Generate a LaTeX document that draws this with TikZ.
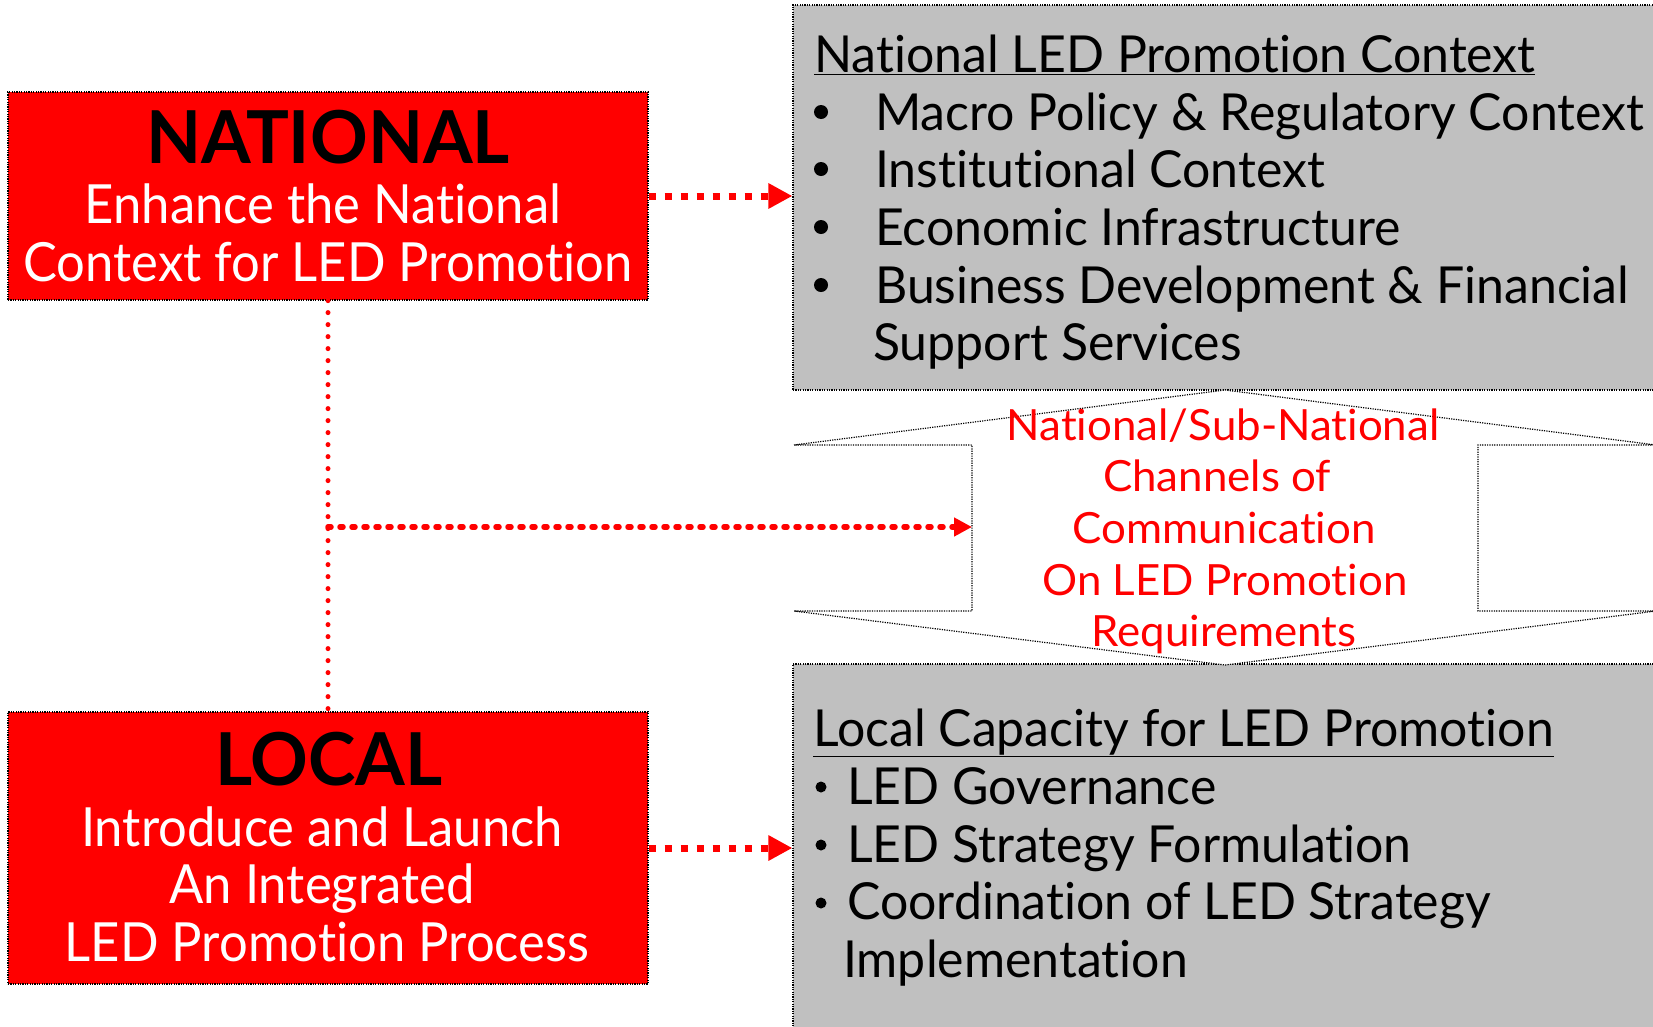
\documentclass[tikz,border=0pt]{standalone}
\usepackage{fontspec}
\setmainfont{Lato}[Ligatures=NoCommon]
\newfontfamily\fwhite{Lato}[FakeStretch=0.94, Ligatures=NoCommon]
\newfontfamily\fgray{Lato}[FakeStretch=0.98, Ligatures=NoCommon]
\newfontfamily\fchan{Lato}[FakeStretch=1.02, Ligatures=NoCommon]
\usetikzlibrary{arrows.meta}
\definecolor{ledred}{HTML}{FF0000}
\definecolor{ledgray}{HTML}{C0C0C0}
\begin{document}
\begin{tikzpicture}[x=1pt,y=-1pt,
  border/.style={draw=black, line width=1.2pt, dash pattern=on 1.2pt off 1.2pt},
  redbox/.style={border, fill=ledred, inner sep=0pt},
  graybox/.style={border, fill=ledgray, inner sep=0pt},
  txt/.style={anchor=base west, inner sep=0pt},
  ctxt/.style={anchor=base, inner sep=0pt},
  bigfont/.style={font=\fgray\fontsize{73}{80}\selectfont\bfseries},
  subfont/.style={font=\fwhite\fontsize{54}{60}\selectfont, text=white},
  grayfont/.style={font=\fgray\fontsize{51}{58}\selectfont},
  chanfont/.style={font=\fchan\fontsize{43}{50}\selectfont, text=ledred},
  bigdot/.style={circle, fill=black, inner sep=0pt, minimum size=14pt},
  smalldot/.style={circle, fill=black, inner sep=0pt, minimum size=11pt},
  bigarrow/.style={ledred, line width=7pt, dash pattern=on 7pt off 9pt, -{Triangle[length=24pt,width=24pt]}},
  dotline/.style={ledred, line width=5pt, line cap=round, dash pattern=on 0pt off 12pt},
  dotarrow/.style={ledred, line width=5.5pt, line cap=round, dash pattern=on 3pt off 9pt, -{Triangle[length=18pt,width=18pt]}},
]
\clip (0,0) rectangle (1653,1026);
\fill[white] (0,0) rectangle (1653,1026);

% boxes
\node[redbox, minimum width=640pt, minimum height=208pt] (nat) at (328,196) {};
\node[redbox, minimum width=640pt, minimum height=272pt] (loc) at (328,848) {};
\node[graybox, minimum width=907pt, minimum height=385pt] (ctx) at (1246.5,197.5) {};
\node[graybox, minimum width=907pt, minimum height=436pt] (cap) at (1246.5,882) {};

% double arrow shape
\draw[border, fill=white] (794,445) -- (1225,390) -- (1656,445) -- (1478,445) -- (1478,611) -- (1656,611) -- (1225,665) -- (794,611) -- (972,611) -- (972,445) -- cycle;
\coordinate (notch) at (972,527);

% national box text
\node[ctxt, bigfont] (natT) at (328,163) {NATIONAL};
\node[ctxt, subfont] (natS1) at (323,223) {Enhance the National};
\node[ctxt, subfont] (natS2) at (328,281) {Context for LED Promotion};

% local box text
\node[ctxt, bigfont] (locT) at (329,785) {LOCAL};
\node[ctxt, subfont] (locS1) at (322,846) {Introduce and Launch};
\node[ctxt, subfont] (locS2) at (322,903) {An Integrated};
\node[ctxt, subfont] (locS3) at (327,961) {LED Promotion Process};

% national context text
\node[txt, grayfont] (ctxH) at (814,72) {\underline{National LED Promotion Context}};
\node[bigdot] (b1) at (821,112) {};
\node[txt, grayfont] (i1) at (875,130) {Macro Policy \& Regulatory Context};
\node[bigdot] (b2) at (821,169) {};
\node[txt, grayfont] (i2) at (875,187) {Institutional Context};
\node[bigdot] (b3) at (821,227) {};
\node[txt, grayfont] (i3) at (875,245) {Economic Infrastructure};
\node[bigdot] (b4) at (821,285) {};
\node[txt, grayfont] (i4) at (875,303) {Business Development \& Financial};
\node[txt, grayfont] (i4b) at (873,360) {Support Services};

% channels text
\node[ctxt, chanfont] (ch1) at (1223,440) {National/Sub-National};
\node[ctxt, chanfont] (ch2) at (1217,491) {Channels of};
\node[ctxt, chanfont] (ch3) at (1224,543) {Communication};
\node[ctxt, chanfont] (ch4) at (1225,595) {On LED Promotion};
\node[ctxt, chanfont] (ch5) at (1224,646) {Requirements};

% local capacity text
\node[txt, grayfont] (capH) at (813,746) {\underline{Local Capacity for LED Promotion}};
\node[smalldot] (c1b) at (821,787) {};
\node[txt, grayfont] (c1) at (847,804) {LED Governance};
\node[smalldot] (c2b) at (821,845) {};
\node[txt, grayfont] (c2) at (847,862) {LED Strategy Formulation};
\node[smalldot] (c3b) at (821,903) {};
\node[txt, grayfont] (c3) at (847,919) {Coordination of LED Strategy};
\node[txt, grayfont] (c3x) at (843,977) {Implementation};

% connectors
\draw[bigarrow] (nat.east) -- (nat.east -| ctx.west);
\draw[bigarrow] (loc.east) -- (loc.east -| cap.west);
\draw[dotline] (nat.south) -- (loc.north);
\draw[dotarrow] (nat.south |- notch) -- (notch);
\end{tikzpicture}
\end{document}
